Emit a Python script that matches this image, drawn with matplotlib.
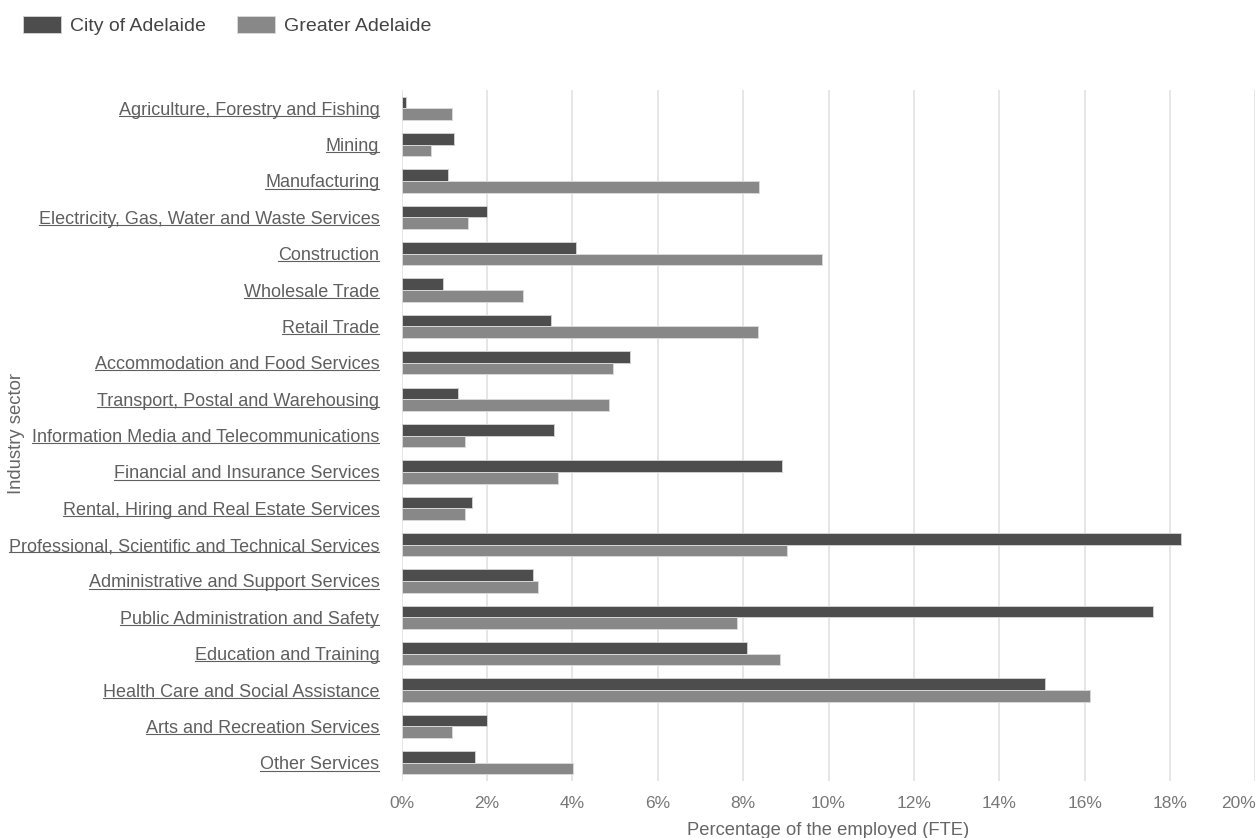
import matplotlib
matplotlib.use("Agg")
import matplotlib.pyplot as plt
import numpy as np
from matplotlib.lines import Line2D
from matplotlib.patches import Patch
from matplotlib.ticker import FuncFormatter

sectors = [
    "Agriculture, Forestry and Fishing",
    "Mining",
    "Manufacturing",
    "Electricity, Gas, Water and Waste Services",
    "Construction",
    "Wholesale Trade",
    "Retail Trade",
    "Accommodation and Food Services",
    "Transport, Postal and Warehousing",
    "Information Media and Telecommunications",
    "Financial and Insurance Services",
    "Rental, Hiring and Real Estate Services",
    "Professional, Scientific and Technical Services",
    "Administrative and Support Services",
    "Public Administration and Safety",
    "Education and Training",
    "Health Care and Social Assistance",
    "Arts and Recreation Services",
    "Other Services",
]
city = [0.10, 1.22, 1.08, 2.01, 4.09, 0.97, 3.49, 5.36, 1.33, 3.56,
        8.91, 1.66, 18.25, 3.09, 17.60, 8.08, 15.08, 2.01, 1.73]
greater = [1.19, 0.68, 8.37, 1.55, 9.85, 2.85, 8.34, 4.96, 4.85, 1.48,
           3.67, 1.48, 9.02, 3.20, 7.86, 8.87, 16.12, 1.19, 4.02]
series_names = ["City of Adelaide", "Greater Adelaide"]
x_ticks = [0, 2, 4, 6, 8, 10, 12, 14, 16, 18, 20]

C_CITY, C_GREATER = "#4d4d4d", "#888888"
plt.rcParams["font.family"] = ["Liberation Sans", "DejaVu Sans"]

fig = plt.figure(figsize=(12.58, 8.38), dpi=100)
ax = fig.add_axes([0.3192, 0.068, 0.6788, 0.8246])

y = np.arange(len(sectors))
h = 0.32
ax.barh(y - h / 2, city, h, color=C_CITY, edgecolor="#cfcfcf", linewidth=0.7)
ax.barh(y + h / 2, greater, h, color=C_GREATER, edgecolor="#d8d8d8", linewidth=0.7)

ax.set_ylim(len(sectors) - 0.5, -0.5)
ax.set_xlim(0, 20)
ax.set_xticks(x_ticks)
ax.xaxis.set_major_formatter(FuncFormatter(lambda v, _: f"{v:.0f}%"))
ax.set_yticks(y)
ax.set_yticklabels(sectors)
ax.tick_params(axis="y", length=0, pad=16, labelsize=13, labelcolor="#5f5f5f")
ax.tick_params(axis="x", length=0, pad=11, labelsize=12.5, labelcolor="#777777")
ax.get_xticklabels()[-1].set_horizontalalignment("right")
ax.grid(axis="x", color="#e4e4e4", linewidth=1.3)
ax.set_axisbelow(True)
for s in ax.spines.values():
    s.set_visible(False)

ax.set_xlabel("Percentage of the employed (FTE)", fontsize=13.2, color="#666666",
              labelpad=8)
fig.text(0.0135, 0.483, "Industry sector", rotation=90, ha="center", va="center",
         fontsize=13.3, color="#666666")

handles = [Patch(facecolor=C_CITY, edgecolor="#cfcfcf", linewidth=0.7),
           Patch(facecolor=C_GREATER, edgecolor="#d8d8d8", linewidth=0.7)]
leg = fig.legend(handles, series_names, loc="upper left", bbox_to_anchor=(0.003, 1.004),
                 ncol=2, frameon=False, fontsize=14, handlelength=1.95,
                 handleheight=0.95, handletextpad=0.45, columnspacing=1.6,
                 borderaxespad=0.6)
for t in leg.get_texts():
    t.set_color("#444444")

# underline the sector names like links (bbox bottom sits a fixed distance below the baseline)
fig.canvas.draw()
renderer = fig.canvas.get_renderer()
W, H = fig.bbox.width, fig.bbox.height
for t in ax.get_yticklabels():
    bb = t.get_window_extent(renderer)
    yb = bb.y0 + 2.8
    fig.add_artist(Line2D([bb.x0 / W, bb.x1 / W], [yb / H, yb / H],
                          transform=fig.transFigure, color="#5f5f5f", linewidth=0.8))

fig.savefig("out.png", dpi=100)
